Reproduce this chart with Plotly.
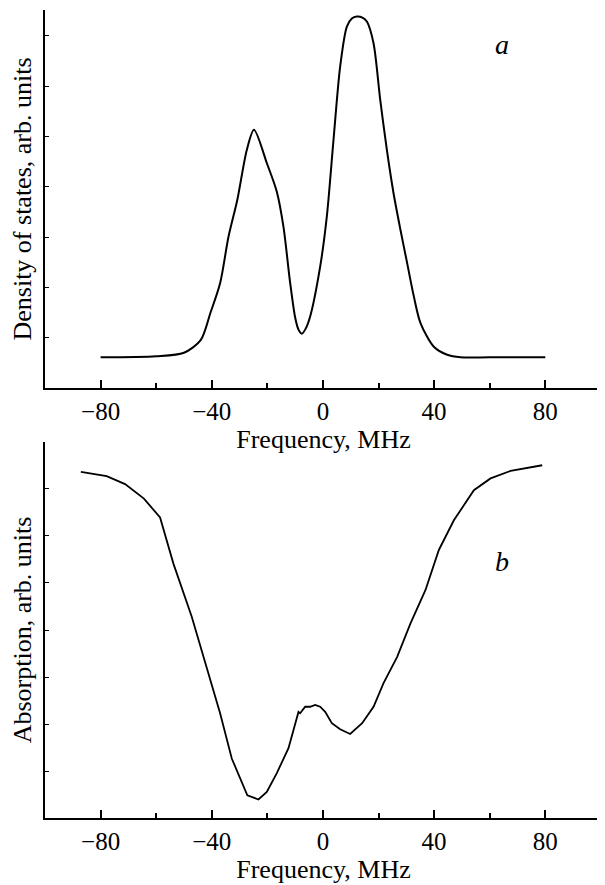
import plotly.graph_objects as go

# Panel a: density of states
freq_a = [-80, -60, -50, -44, -40.5, -37, -34, -30.8, -27.4, -24.8, -20.2, -16.6, -14.2,
          -11.8, -10, -8.8, -7.6, -6.2, -4.6, -1, 1.4, 3.8, 6.2, 8.6, 10.4, 12.2, 14.2, 15.8, 18.2,
          20.6, 23, 25.4, 27.9, 30.3, 32.7, 35.1, 39.9, 44.7, 49.5, 60, 80]
dos_a = [0.61, 0.63, 0.70, 0.95, 1.49, 2.08, 3.0, 3.74, 4.73, 5.13, 4.47, 3.9, 3.2,
         2.09, 1.40, 1.16, 1.08, 1.18, 1.42, 2.41, 3.41, 4.93, 6.39, 7.18, 7.34, 7.38, 7.36, 7.28, 6.85,
         5.73, 4.73, 3.87, 3.14, 2.48, 1.82, 1.29, 0.82, 0.66, 0.61, 0.61, 0.61]

# Panel b: absorption
freq_b = [-87.1, -77.8, -71.2, -64.4, -58.6, -53.8, -47.2, -41.2, -37, -32.8, -27.2, -23.2,
          -20.2, -16.6, -12.4, -8.8, -8.2, -6.4, -4.6, -2.8, -1, 0.8, 3.2, 6.2, 9.8, 14.1,
          18.2, 21.8, 26.7, 31.5, 36.9, 41.7, 47.1, 54.3, 60.3, 67.5, 78.9]
abs_b = [7.36, 7.27, 7.10, 6.79, 6.39, 5.41, 4.28, 3.08, 2.23, 1.27, 0.49, 0.40,
         0.56, 0.96, 1.49, 2.26, 2.23, 2.37, 2.37, 2.41, 2.37, 2.26, 2.02, 1.89, 1.79, 2.02,
         2.37, 2.87, 3.43, 4.14, 4.85, 5.70, 6.33, 6.97, 7.22, 7.38, 7.50]

x_tickvals = [-80, -40, 0, 40, 80]
x_ticktext = ["\u221280", "\u221240", "0", "40", "80"]
x_minor_ticks = [-100, -60, -20, 20, 60, 100]
y_ticks_a = [1, 2, 3, 4, 5, 6, 7]
y_ticks_b = [1, 2, 3, 4, 5, 6, 7]

# The page body has an 8 px margin, so the figure is drawn 8 px in from the top-left.
OFF = 8
PW, PH = 605, 885
W, H = PW - OFF, PH - OFF
FONT = "Liberation Serif, Times New Roman, serif"

fig = go.Figure()
fig.add_trace(go.Scatter(x=freq_a, y=dos_a, mode="lines",
                         line=dict(color="black", width=2, shape="spline", smoothing=0.8),
                         xaxis="x", yaxis="y", showlegend=False))
fig.add_trace(go.Scatter(x=freq_b, y=abs_b, mode="lines", line=dict(color="black", width=1.8),
                         xaxis="x2", yaxis="y2", showlegend=False))


def px_x(p):
    return (p - OFF) / W


def px_y(p):
    return (PH - p) / H


xdom = [px_x(45), px_x(602)]

xcommon = dict(
    range=[-100, 100.4], showline=True, linecolor="black", linewidth=2,
    ticks="inside", ticklen=8, tickwidth=1.5, tickcolor="black",
    tickvals=x_tickvals, ticktext=x_ticktext,
    minor=dict(tickvals=x_minor_ticks, ticks="inside", ticklen=5, tickwidth=1.5, tickcolor="black"),
    showgrid=False, zeroline=False, domain=xdom,
    tickfont=dict(family=FONT, size=25, color="black"),
    title=dict(text="Frequency, MHz", font=dict(family=FONT, size=26, color="black"), standoff=4),
    automargin=False, fixedrange=True,
)
ycommon = dict(
    showline=True, linecolor="black", linewidth=2,
    ticks="inside", ticklen=4, tickwidth=1.2, tickcolor="black",
    showticklabels=False, showgrid=False, zeroline=False,
    automargin=False, fixedrange=True,
)

fig.update_layout(
    width=W, height=H,
    margin=dict(l=0, r=0, t=0, b=0),
    paper_bgcolor="white", plot_bgcolor="white",
    xaxis=dict(**xcommon, anchor="y"),
    yaxis=dict(**ycommon, range=[0, 7.51], tickvals=y_ticks_a, anchor="x",
               domain=[px_y(388), px_y(10)],
               title=dict(text="Density of states, arb. units",
                          font=dict(family=FONT, size=26, color="black"), standoff=4)),
    xaxis2=dict(**xcommon, anchor="y2"),
    yaxis2=dict(**ycommon, range=[0, 8.0], tickvals=y_ticks_b, anchor="x2",
                domain=[px_y(818.3), px_y(441.7)],
                title=dict(text="Absorption, arb. units",
                           font=dict(family=FONT, size=26, color="black"), standoff=4)),
    annotations=[
        dict(text="<i>a</i>", x=64.5, y=6.82, xref="x", yref="y", showarrow=False,
             font=dict(family=FONT, size=28, color="black")),
        dict(text="<i>b</i>", x=64.5, y=5.45, xref="x2", yref="y2", showarrow=False,
             font=dict(family=FONT, size=28, color="black")),
    ],
)

fig.write_html("out.html")
